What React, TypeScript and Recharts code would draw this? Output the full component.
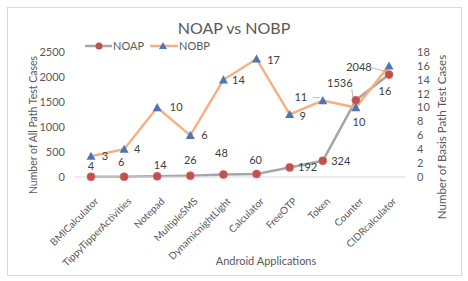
import React from "react";
import { LineChart, Line, XAxis, YAxis, LabelList } from "recharts";

/* ------------------------------------------------------------------ */
/*  Data                                                               */
/* ------------------------------------------------------------------ */

const apps = [
  "BMICalculator",
  "TippyTipperActivities",
  "Notepad",
  "MultipleSMS",
  "DynamicnightLight",
  "Calculator",
  "FreeOTP",
  "Token",
  "Counter",
  "CIDRcalculator",
];
const noap = [4, 6, 14, 26, 48, 60, 192, 324, 1536, 2048];
const nobp = [3, 4, 10, 6, 14, 17, 9, 11, 10, 16];
const leftTicks = [0, 500, 1000, 1500, 2000, 2500];
const rightTicks = [0, 2, 4, 6, 8, 10, 12, 14, 16, 18];

const data = apps.map((app, i) => ({ app, noap: noap[i], nobp: nobp[i] }));

/* ------------------------------------------------------------------ */
/*  Label placement (offsets from the point, leader line flag)          */
/* ------------------------------------------------------------------ */

const noapLabelPos: [number, number, boolean][] = [
  [0, -11, false],
  [-3, -15, false],
  [3, -11, false],
  [0, -16, false],
  [-2, -21, false],
  [-1, -14, false],
  [18, 0, false],
  [18, 0, false],
  [-16, -17, true],
  [-30, -7, true],
];
const nobpLabelPos: [number, number, boolean][] = [
  [14, 0, false],
  [13, 0, false],
  [19, 0, false],
  [14, 0, false],
  [15, 0, false],
  [17, 1, false],
  [13, 2, false],
  [-22, -3, true],
  [3, 15, false],
  [-4, 25, false],
];

const TEXT = "#595959";
const FONT = "Lato, Carlito, 'Open Sans', sans-serif";

/* ------------------------------------------------------------------ */
/*  Custom pieces                                                      */
/* ------------------------------------------------------------------ */

function makeLabel(pos: [number, number, boolean][]) {
  return (props: any) => {
    const vb = props.viewBox || {};
    const px = props.x ?? vb.x;
    const py = props.y ?? vb.y;
    const [dx, dy, leader] = pos[props.index] ?? [0, -10, false];
    const tx = px + dx;
    const ty = py + dy;
    return (
      <g>
        {leader && (
          <line
            x1={tx + (dx < 0 ? 12 : -12)}
            y1={ty + (dy < -10 ? 6 : 0)}
            x2={px + (dx < 0 ? -3 : 3)}
            y2={py - 3}
            stroke="#a6a6a6"
            strokeWidth={0.8}
          />
        )}
        <text
          x={tx}
          y={ty}
          dy="0.35em"
          textAnchor="middle"
          fontSize={11}
          fill="#404040"
          fontFamily={FONT}
        >
          {props.value}
        </text>
      </g>
    );
  };
}

function CircleDot(props: any) {
  const { cx, cy } = props;
  if (cx == null || cy == null) return null;
  return <circle cx={cx} cy={cy} r={4} fill="#c0504d" stroke="#d46a66" strokeWidth={0.8} />;
}

function TriangleDot(props: any) {
  const { cx, cy } = props;
  if (cx == null || cy == null) return null;
  const s = 4.5;
  return (
    <polygon
      points={`${cx},${cy - s} ${cx + s},${cy + s * 0.8} ${cx - s},${cy + s * 0.8}`}
      fill="#4f74b8"
    />
  );
}

function AppTick(props: any) {
  const { x, y, payload } = props;
  return (
    <g transform={`translate(${x + 3},${y + 12})`}>
      <text
        x={0}
        y={0}
        dy="0.7em"
        textAnchor="end"
        transform="rotate(-45)"
        fontSize={10}
        fill={TEXT}
        fontFamily={FONT}
      >
        {payload.value}
      </text>
    </g>
  );
}

/* ------------------------------------------------------------------ */
/*  Component                                                          */
/* ------------------------------------------------------------------ */

export default function App() {
  return (
    <div
      style={{
        position: "absolute",
        left: 0,
        top: 0,
        width: 468,
        height: 281,
        background: "#fff",
        fontFamily: FONT,
      }}
    >
      <div
        style={{
          position: "absolute",
          left: 7,
          top: 7,
          width: 453,
          height: 267,
          border: "1px solid #d9d9d9",
        }}
      />
      <div
        style={{
          position: "absolute",
          left: 0,
          top: 18,
          width: 468,
          textAlign: "center",
          fontSize: 16,
          color: TEXT,
        }}
      >
        NOAP vs NOBP
      </div>

      {/* legend */}
      <svg
        style={{ position: "absolute", left: 0, top: 38 }}
        width={220}
        height={16}
      >
        <line x1={85} y1={8} x2={112} y2={8} stroke="#a6a6a6" strokeWidth={2.5} />
        <circle cx={99} cy={8} r={3.5} fill="#c0504d" />
        <text x={113} y={8} dy="0.35em" fontSize={11} fill={TEXT} fontFamily={FONT}>
          NOAP
        </text>
        <line x1={150} y1={8} x2={178} y2={8} stroke="#f4b183" strokeWidth={2.5} />
        <polygon points="163,4 167,11 159,11" fill="#4f74b8" />
        <text x={179} y={8} dy="0.35em" fontSize={11} fill={TEXT} fontFamily={FONT}>
          NOBP
        </text>
      </svg>

      <div style={{ position: "absolute", left: 0, top: 0 }}>
        <LineChart
          width={468}
          height={281}
          data={data}
          margin={{ top: 52, right: 0, bottom: 0, left: 0 }}
        >
          <XAxis
            dataKey="app"
            interval={0}
            height={104}
            padding={{ left: 16, right: 16 }}
            tickLine={false}
            axisLine={{ stroke: "#d9d9d9" }}
            tick={<AppTick />}
          />
          <YAxis
            yAxisId="left"
            width={75}
            domain={[0, 2500]}
            ticks={leftTicks}
            interval={0}
            tickLine={false}
            axisLine={false}
            tickMargin={4}
            tick={{ fontSize: 11, fill: TEXT, fontFamily: FONT }}
          />
          <YAxis
            yAxisId="right"
            orientation="right"
            width={63}
            domain={[0, 18]}
            ticks={rightTicks}
            interval={0}
            tickLine={false}
            axisLine={false}
            tickMargin={6}
            tick={{ fontSize: 11, fill: TEXT, fontFamily: FONT }}
          />
          <Line
            yAxisId="left"
            dataKey="noap"
            stroke="#a6a6a6"
            strokeWidth={2.5}
            dot={<CircleDot />}
            activeDot={false}
            isAnimationActive={false}
          >
            <LabelList dataKey="noap" content={makeLabel(noapLabelPos)} />
          </Line>
          <Line
            yAxisId="right"
            dataKey="nobp"
            stroke="#f4b183"
            strokeWidth={2.5}
            dot={<TriangleDot />}
            activeDot={false}
            isAnimationActive={false}
          >
            <LabelList dataKey="nobp" content={makeLabel(nobpLabelPos)} />
          </Line>
        </LineChart>
      </div>

      {/* axis titles */}
      <div
        style={{
          position: "absolute",
          left: 33,
          top: 125,
          transform: "translate(-50%, -50%) rotate(-90deg)",
          whiteSpace: "nowrap",
          fontSize: 10.5,
          color: TEXT,
        }}
      >
        Number of All Path Test Cases
      </div>
      <div
        style={{
          position: "absolute",
          left: 441,
          top: 137,
          transform: "translate(-50%, -50%) rotate(-90deg)",
          whiteSpace: "nowrap",
          fontSize: 11.5,
          color: TEXT,
        }}
      >
        Number of Basis Path Test Cases
      </div>
      <div
        style={{
          position: "absolute",
          left: 266,
          top: 260,
          transform: "translate(-50%, -50%)",
          whiteSpace: "nowrap",
          fontSize: 11,
          color: TEXT,
        }}
      >
        Android Applications
      </div>
    </div>
  );
}
